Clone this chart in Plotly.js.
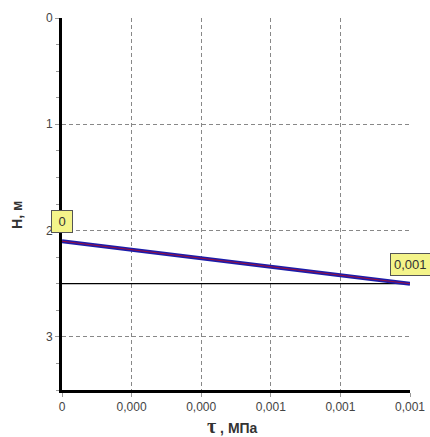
<!DOCTYPE html>
<html><head><meta charset="utf-8">
<script src="https://cdn.plot.ly/plotly-3.0.1.min.js"></script>
<style>html,body{margin:0;padding:0;background:#fff}#c{width:430px;height:437px}</style>
</head><body><div id="c"></div>
<script>
const tauValues = [0, 0.001];
const depthValues = [2.1, 2.5];
const refLineX = [0, 0.001];
const refLineY = [2.5, 2.5];
const xTickVals = [0, 0.0002, 0.0004, 0.0006, 0.0008, 0.001];
const xTickText = ["0", "0,000", "0,000", "0,001", "0,001", "0,001"];
const yTickVals = [0, 1, 2, 3];
const yTickText = ["0", "1", "2", "3"];
const pointLabels = ["&nbsp;0&nbsp;", "0,001"];
const labelY = [1.91, 2.32];

const traces = [
  {x: refLineX, y: refLineY, mode: 'lines', line: {color: '#000', width: 1.2}, hoverinfo: 'skip'},
  {x: tauValues, y: depthValues, mode: 'lines', line: {color: '#1c1caa', width: 4}},
  {x: tauValues, y: depthValues, mode: 'lines', line: {color: '#9a1040', width: 1}}
];

const annotations = tauValues.map((t, i) => ({
  x: t, y: labelY[i], xref: 'x', yref: 'y', text: pointLabels[i], showarrow: false,
  xanchor: 'center', yanchor: 'middle',
  bgcolor: '#f4f48a', bordercolor: '#555', borderwidth: 1, borderpad: 3,
  font: {family: 'Liberation Sans, Arial', size: 13, color: '#333'}
}));
annotations.push({
  xref: 'paper', yref: 'paper', x: 0.49, y: -0.098, xanchor: 'center', yanchor: 'middle',
  showarrow: false,
  text: '<span style="font-family:Liberation Serif;font-size:20px">τ</span> , МПа',
  font: {family: 'Liberation Sans, Arial', size: 14, color: '#333', weight: 'bold'}
});
annotations.push({
  xref: 'paper', yref: 'paper', x: -0.13, y: 0.47, xanchor: 'center', yanchor: 'middle',
  showarrow: false, textangle: -90,
  text: 'H, м',
  font: {family: 'Liberation Sans, Arial', size: 14, color: '#333', weight: 'bold'}
});

const layout = {
  width: 430, height: 437,
  margin: {l: 62, r: 20, t: 18, b: 47},
  paper_bgcolor: '#fff', plot_bgcolor: '#fff',
  showlegend: false,
  font: {family: 'Liberation Sans, Arial', size: 12, color: '#444'},
  xaxis: {
    range: [0, 0.001], tickvals: xTickVals, ticktext: xTickText,
    showgrid: true, gridcolor: '#888', griddash: '4px,3px', gridwidth: 1,
    showline: true, linecolor: '#000', linewidth: 3,
    ticks: 'outside', ticklen: 4, tickcolor: '#999', zeroline: false,
    tickfont: {size: 12, color: '#444'}
  },
  yaxis: {
    range: [3.5, 0], tickvals: yTickVals, ticktext: yTickText,
    showgrid: true, gridcolor: '#888', griddash: '4px,3px', gridwidth: 1,
    showline: true, linecolor: '#000', linewidth: 3,
    ticks: 'outside', ticklen: 4, tickcolor: '#999', zeroline: false,
    minor: {dtick: 0.25, ticks: 'outside', ticklen: 3, tickcolor: '#999', showgrid: false},
    tickfont: {size: 12, color: '#444'}
  },
  annotations: annotations
};
Plotly.newPlot('c', traces, layout, {staticPlot: true, displayModeBar: false});
</script></body></html>
